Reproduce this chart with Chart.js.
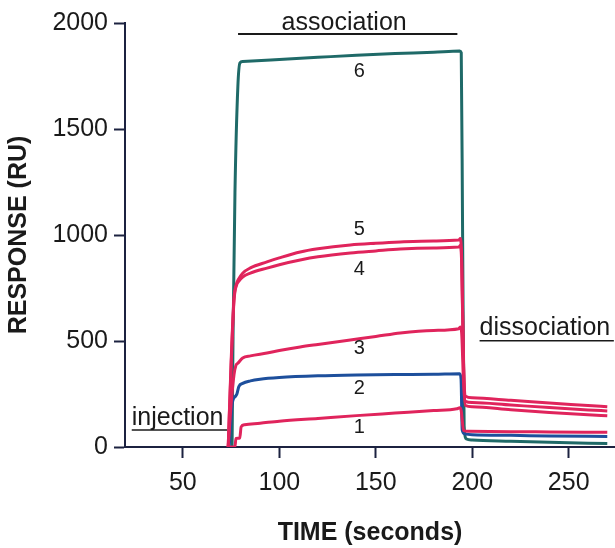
<!DOCTYPE html>
<html>
<head>
<meta charset="utf-8">
<script src="https://cdn.jsdelivr.net/npm/chart.js@4/dist/chart.umd.min.js"></script>
<style>
  body { margin: 0; background: #fff; }
  #wrap { width: 615px; height: 548px; }
</style>
</head>
<body>
<div id="wrap"><canvas id="sprChart" width="615" height="548"></canvas></div>
<script>
// sensorgram traces: time in seconds, response in RU
const time1 = [73, 77, 77.5, 79.5, 80.2, 82, 90, 100, 120, 140, 160, 180, 192, 193.5, 194.3, 195.5, 198, 220, 240, 270];
const resp1 = [0, 0, 40, 42, 95, 105, 112, 122, 135, 148, 160, 172, 180, 185, 170, 78, 74, 72, 71, 69];

const time2 = [74, 75.5, 77.3, 78, 79, 81, 85, 90, 100, 120, 140, 160, 180, 193.5, 194.2, 194.8, 196, 200, 220, 240, 270];
const resp2 = [0, 200, 240, 250, 285, 300, 312, 320, 328, 336, 340, 342, 343, 346, 320, 80, 62, 58, 55, 52, 50];

const time3 = [73.5, 75, 76.5, 77.5, 78.6, 81, 85, 93.6, 100, 110.8, 120, 136.8, 150, 162.7, 180, 193, 193.8, 194.5, 195.5, 196.5, 200, 220, 240, 260, 270];
const resp3 = [0, 200, 340, 385, 396, 420, 430, 443, 455, 472, 484, 505, 521, 538, 550, 558, 566, 540, 300, 196, 190, 176, 163, 152, 147];

const time45 = [73.5, 75, 76.5, 78, 78.6, 81, 85, 93.6, 100, 110.8, 120, 136.8, 150, 162.7, 180, 193, 193.8, 194.5, 195.5, 196.5, 200, 220, 240, 260, 270];
const resp4 = [0, 380, 690, 768, 778, 802, 820, 844, 860, 882, 897, 915, 925, 934, 939, 943, 950, 870, 380, 215, 210, 198, 186, 175, 170];
const resp5 = [0, 400, 700, 775, 788, 820, 845, 873, 892, 920, 935, 953, 961, 967, 972, 976, 983, 900, 400, 240, 232, 220, 207, 196, 190];

const time6 = [75.5, 76, 77, 78.5, 79.6, 81, 100, 120, 140, 160, 180, 193.5, 194.3, 195, 195.8, 197, 200, 220, 240, 270];
const resp6 = [0, 520, 1200, 1700, 1812, 1818, 1828, 1838, 1848, 1856, 1862, 1868, 1860, 1000, 100, 38, 33, 27, 22, 16];

const xTicks = [50, 100, 150, 200, 250];
const yTicks = [0, 500, 1000, 1500, 2000];
const curveNames = ['1', '2', '3', '4', '5', '6'];

const RED = '#e0245c';
const BLUE = '#1d4f9c';
const TEAL = '#1f6a68';
const AXIS = '#1c2240';

function toPoints(t, r) {
  return t.map((x, i) => ({ x: x, y: r[i] }));
}

function trace(name, t, r, color) {
  return {
    label: name,
    data: toPoints(t, r),
    borderColor: color,
    backgroundColor: color,
    borderWidth: 3,
    pointRadius: 0,
    fill: false,
    cubicInterpolationMode: 'monotone'
  };
}

// text drawn on top of the plot, placed in data units
const notes = {
  association: { x: 133.6, y: 1967, line: [78.6, 192.3, 1948] },
  injection: { x: 23.5, y: 104, line: [23.5, 72.9, 80] },
  dissociation: { x: 203.8, y: 528, line: [203.8, 273.4, 501] },
  numberX: 141.5,
  numberY: [90, 278, 467, 835, 1024, 1769]
};

const notesPlugin = {
  id: 'notes',
  afterDraw(chart) {
    const ctx = chart.ctx;
    const xs = chart.scales.x;
    const ys = chart.scales.y;
    ctx.save();
    ctx.fillStyle = '#1a1a1a';
    ctx.strokeStyle = '#1a1a1a';
    ctx.textBaseline = 'alphabetic';
    ctx.font = '25px "Liberation Sans", Arial, sans-serif';

    ['association', 'injection', 'dissociation'].forEach(key => {
      const n = notes[key];
      ctx.textAlign = key === 'association' ? 'center' : 'left';
      ctx.fillText(key, xs.getPixelForValue(n.x), ys.getPixelForValue(n.y));
      const ly = ys.getPixelForValue(n.line[2]);
      ctx.lineWidth = key === 'association' ? 2 : 1.5;
      ctx.beginPath();
      ctx.moveTo(xs.getPixelForValue(n.line[0]), ly);
      ctx.lineTo(xs.getPixelForValue(n.line[1]), ly);
      ctx.stroke();
    });

    ctx.font = '20px "Liberation Sans", Arial, sans-serif';
    ctx.textAlign = 'center';
    ctx.textBaseline = 'middle';
    curveNames.forEach((name, i) => {
      ctx.fillText(name, xs.getPixelForValue(notes.numberX), ys.getPixelForValue(notes.numberY[i]));
    });
    ctx.restore();
  }
};

new Chart(document.getElementById('sprChart'), {
  type: 'line',
  data: {
    datasets: [
      trace(curveNames[0], time1, resp1, RED),
      trace(curveNames[2], time3, resp3, RED),
      trace(curveNames[3], time45, resp4, RED),
      trace(curveNames[4], time45, resp5, RED),
      trace(curveNames[1], time2, resp2, BLUE),
      trace(curveNames[5], time6, resp6, TEAL)
    ]
  },
  options: {
    responsive: false,
    animation: false,
    devicePixelRatio: 1,
    layout: { padding: { top: 23, right: 0, left: 0, bottom: 0 } },
    plugins: {
      legend: { display: false },
      tooltip: { enabled: false }
    },
    scales: {
      x: {
        type: 'linear',
        min: 20,
        max: 274,
        afterBuildTicks: scale => { scale.ticks = xTicks.map(v => ({ value: v })); },
        afterFit: scale => { scale.height = 101; },
        grid: { drawOnChartArea: false, drawTicks: true, tickLength: 11, tickWidth: 2, tickColor: AXIS },
        border: { display: true, color: AXIS, width: 2 },
        ticks: {
          color: '#1a1a1a',
          padding: 10,
          maxRotation: 0,
          callback: v => String(v),
          font: { family: '"Liberation Sans", Arial, sans-serif', size: 25 }
        },
        title: {
          display: true,
          text: 'TIME (seconds)',
          color: '#1a1a1a',
          padding: { top: 0, bottom: 0 },
          font: { family: '"Liberation Sans", Arial, sans-serif', size: 25, weight: 'bold' }
        }
      },
      y: {
        type: 'linear',
        min: 0,
        max: 2000,
        afterBuildTicks: scale => { scale.ticks = yTicks.map(v => ({ value: v })); },
        afterFit: scale => { scale.width = 125; },
        grid: { drawOnChartArea: false, drawTicks: true, tickLength: 11, tickWidth: 2, tickColor: AXIS },
        border: { display: true, color: AXIS, width: 2 },
        ticks: {
          color: '#1a1a1a',
          padding: 6,
          callback: v => String(v),
          font: { family: '"Liberation Sans", Arial, sans-serif', size: 25 }
        },
        title: {
          display: true,
          text: 'RESPONSE (RU)',
          color: '#1a1a1a',
          padding: { top: 4, bottom: 0 },
          font: { family: '"Liberation Sans", Arial, sans-serif', size: 25, weight: 'bold' }
        }
      }
    }
  },
  plugins: [notesPlugin]
});
</script>
</body>
</html>
